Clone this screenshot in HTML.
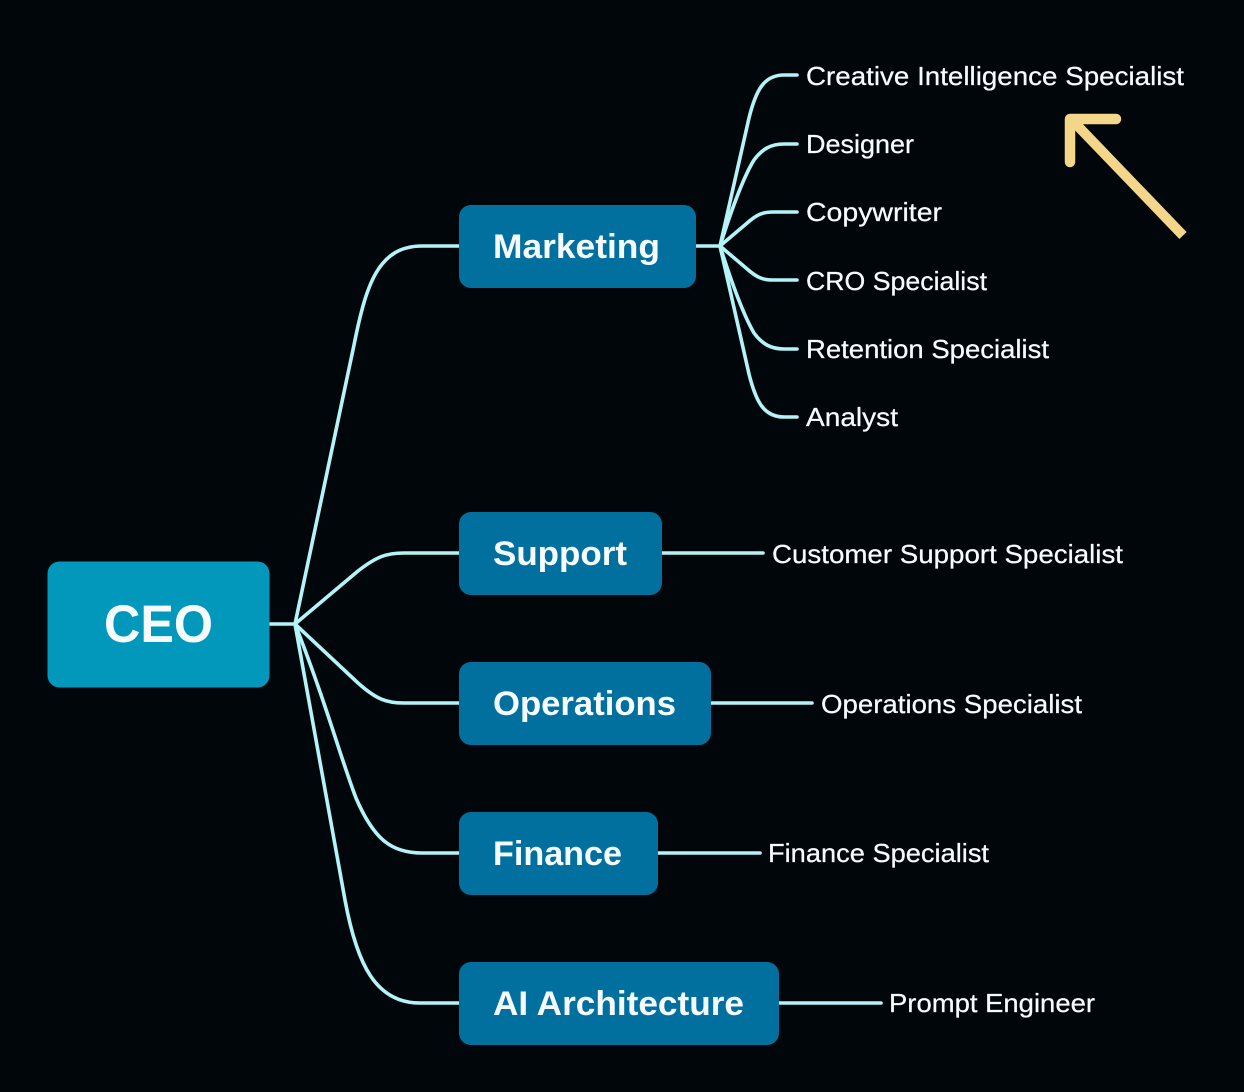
<!DOCTYPE html>
<html><head><meta charset="utf-8"><style>
html,body{margin:0;padding:0;background:#01060a}
svg{display:block}
text{font-family:"Liberation Sans",sans-serif;fill:#f6fbfe}
.l{font-size:26px;stroke:#f6fbfe;stroke-width:.25px}
.b{font-size:34px;font-weight:bold}
</style></head><body>
<svg width="1244" height="1092" viewBox="0 0 1244 1092" xmlns="http://www.w3.org/2000/svg">
<rect width="1244" height="1092" fill="#01060a"/>
<g fill="none" stroke="#b4f3f8" stroke-width="3.6" stroke-linecap="round" stroke-linejoin="round">
<path d="M269 624H295"/>
<path d="M295 624L354 345C366 285 378 246 422 246H459"/>
<path d="M295 624L358 571C376 557 386 553 404 553H459"/>
<path d="M295 624L358 683C376 699 386 703 404 703H459"/>
<path d="M295 624C325 700 342 762 356 798C374 840 392 853 422 853H459"/>
<path d="M295 624L345 900C357 965 376 1003 420 1003H459"/>
<path d="M696 246H720"/>
<path d="M720 246L749 118C756 90 764 75 784 75H797"/>
<path d="M720 246C733 205 744 176 754 160C762 149 771 144 784 144H797"/>
<path d="M720 246L746 224C756 215 762 212 773 212H797"/>
<path d="M720 246L746 268C756 277 762 280 773 280H797"/>
<path d="M720 246C733 287 744 316 754 333C762 344 771 349 784 349H797"/>
<path d="M720 246L749 374C756 402 764 417 784 417H797"/>
<path d="M662 553H763"/>
<path d="M711 703H812"/>
<path d="M658 853H760"/>
<path d="M779 1003H881"/>
</g>
<rect x="47.500" y="561.500" width="222" height="126" rx="12" fill="#0298bb"/>
<rect x="459" y="205" width="237" height="83" rx="12" fill="#02709f"/>
<rect x="459" y="512" width="203" height="83" rx="12" fill="#02709f"/>
<rect x="459" y="662" width="252" height="83" rx="12" fill="#02709f"/>
<rect x="459" y="812" width="199" height="83" rx="12" fill="#02709f"/>
<rect x="459" y="962" width="320" height="83" rx="12" fill="#02709f"/>
<text x="104" y="642" font-size="53" font-weight="bold" textLength="109" lengthAdjust="spacingAndGlyphs">CEO</text>
<text class="b" x="493" y="258" textLength="167" lengthAdjust="spacingAndGlyphs">Marketing</text>
<text class="b" x="493" y="565" textLength="134" lengthAdjust="spacingAndGlyphs">Support</text>
<text class="b" x="493" y="715" textLength="183" lengthAdjust="spacingAndGlyphs">Operations</text>
<text class="b" x="493" y="865" textLength="129" lengthAdjust="spacingAndGlyphs">Finance</text>
<text class="b" x="493" y="1015" textLength="251" lengthAdjust="spacingAndGlyphs">AI Architecture</text>
<text class="l" x="806" y="85" textLength="378" lengthAdjust="spacingAndGlyphs">Creative Intelligence Specialist</text>
<text class="l" x="806" y="153" textLength="108" lengthAdjust="spacingAndGlyphs">Designer</text>
<text class="l" x="806" y="221" textLength="136" lengthAdjust="spacingAndGlyphs">Copywriter</text>
<text class="l" x="806" y="290" textLength="181" lengthAdjust="spacingAndGlyphs">CRO Specialist</text>
<text class="l" x="806" y="358" textLength="243" lengthAdjust="spacingAndGlyphs">Retention Specialist</text>
<text class="l" x="806" y="426" textLength="92" lengthAdjust="spacingAndGlyphs">Analyst</text>
<text class="l" x="772" y="563" textLength="351" lengthAdjust="spacingAndGlyphs">Customer Support Specialist</text>
<text class="l" x="821" y="713" textLength="261" lengthAdjust="spacingAndGlyphs">Operations Specialist</text>
<text class="l" x="768" y="862" textLength="221" lengthAdjust="spacingAndGlyphs">Finance Specialist</text>
<text class="l" x="889" y="1012" textLength="206" lengthAdjust="spacingAndGlyphs">Prompt Engineer</text>
<path d="M1183 235.500L1072 120" fill="none" stroke="#f4d68b" stroke-width="10"/>
<path d="M1070 162V119H1116" fill="none" stroke="#f4d68b" stroke-width="10.500" stroke-linecap="round" stroke-linejoin="round"/>
</svg>
</body></html>
